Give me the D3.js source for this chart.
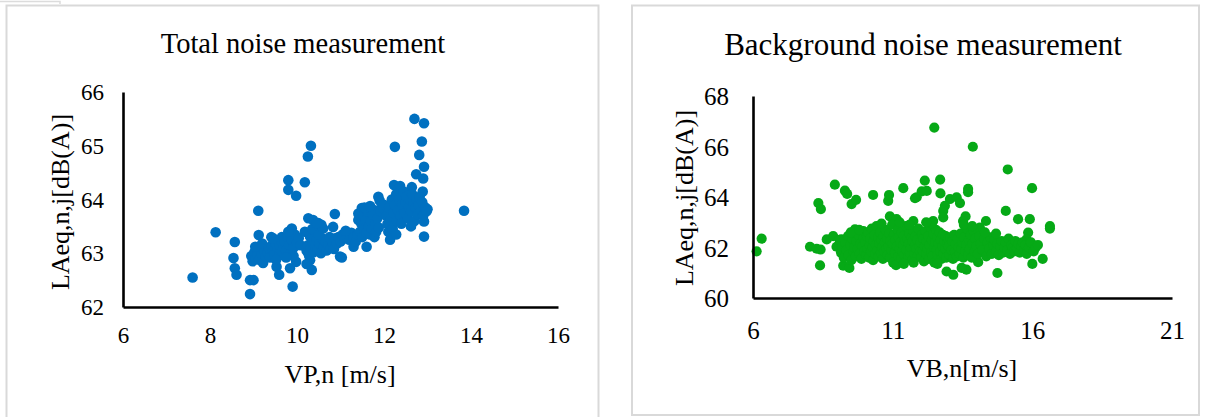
<!DOCTYPE html>
<html><head><meta charset="utf-8">
<script src="https://cdn.jsdelivr.net/npm/d3@7"></script>
<style>
html,body{margin:0;padding:0;background:#fff;}
svg{display:block;}
text{font-family:"Liberation Serif","Times New Roman",serif;fill:#000;}
</style></head>
<body>
<svg id="c" width="1206" height="417"></svg>
<script>
// ---------- DATA ----------
const totalTitle = "Total noise measurement";
const backgroundTitle = "Background noise measurement";
const totalXTicks = [6, 8, 10, 12, 14, 16];
const totalYTicks = [62, 63, 64, 65, 66];
const bgXTicks = [6, 11, 16, 21];
const bgYTicks = [60, 62, 64, 66, 68];

// Total noise: [VP,n (m/s), LAeq,n,j dB(A)]
const totalPoints = [
[7.60,62.55],[8.13,63.39],[8.57,63.21],[8.54,62.91],[8.57,62.72],[8.61,62.60],[8.92,62.50],[9.00,62.50],[8.92,62.24],[9.11,63.79],[9.12,63.34],
[9.80,64.36],[9.80,64.18],[9.98,64.07],[10.18,64.32],[10.25,64.80],[10.32,65.00],
[9.41,63.30],[9.65,63.30],[9.88,63.46],[9.53,62.75],[9.59,62.60],[9.90,62.38],[9.84,62.72],[9.98,62.84],
[10.26,63.65],[10.37,63.62],[10.49,63.56],[10.18,63.40],[10.30,63.31],[10.26,63.00],[10.30,62.87],[10.34,62.69],
[12.70,65.50],[12.92,65.42],[12.25,64.98],[12.87,65.08],[12.81,64.83],[12.92,64.61],[12.74,64.47],[12.90,64.39],
[12.23,64.27],[12.37,64.25],[12.64,64.23],[12.89,64.15],[11.87,64.05],[11.90,63.98],[13.84,63.79],[13.00,63.82],[12.92,63.59],[12.92,63.31],[12.14,63.25],
[11.49,63.84],[11.45,63.65],[11.79,63.80],[10.87,63.73],[10.83,63.49],[10.56,63.53],[11.30,63.12],[11.60,63.12],[11.03,62.92],
[8.95,62.95],[8.98,62.85],[9.02,63.02],[9.05,62.90],[9.08,63.08],[9.10,62.97],[9.13,62.88],[9.15,63.12],[9.18,63.00],[9.22,62.82],[9.25,63.05],[9.28,62.95],[9.04,63.12],[9.20,63.18],
[9.32,63.02],[9.35,63.10],[9.38,62.92],[9.42,63.15],[9.45,63.05],[9.48,62.98],[9.50,63.20],[9.55,63.08],[9.58,62.96],[9.60,63.15],[9.63,63.25],[9.66,63.02],[9.70,63.12],[9.45,63.28],[9.52,62.88],
[9.72,63.22],[9.75,63.05],[9.78,63.30],[9.82,63.15],[9.85,63.00],[9.88,63.25],[9.92,63.10],[9.95,63.35],[10.00,63.20],[10.04,63.28],[10.08,63.15],[9.80,63.40],[9.92,62.95],[9.75,62.92],
[10.22,63.05],[10.25,63.15],[10.28,62.95],[10.32,63.10],[10.35,63.22],[10.38,63.02],[10.42,63.12],[10.45,63.25],[10.48,63.08],[10.52,63.18],[10.55,63.00],[10.58,63.28],[10.62,63.12],[10.65,63.22],[10.68,63.05],[10.72,63.15],[10.75,63.30],[10.78,63.10],[10.82,63.20],[10.85,63.08],[10.88,63.28],[10.92,63.18],[10.40,63.40],[10.35,63.45],[10.22,62.80],[10.50,63.35],[10.60,63.46],[10.45,63.56],[10.99,62.94],
[10.95,63.30],[11.00,63.22],[11.05,63.35],[11.10,63.28],[11.15,63.32],[11.20,63.25],[11.25,63.38],[11.30,63.30],[11.35,63.22],[11.40,63.35],[11.12,63.42],[11.41,63.74],[11.41,63.62],
[11.45,63.40],[11.48,63.55],[11.50,63.30],[11.52,63.70],[11.55,63.45],[11.58,63.62],[11.60,63.38],[11.62,63.78],[11.65,63.50],[11.68,63.35],[11.70,63.60],[11.72,63.45],[11.75,63.72],[11.78,63.30],[11.80,63.55],[11.82,63.40],[11.85,63.65],[11.88,63.48],[11.92,63.78],[11.95,63.85],[11.55,63.85],[11.68,63.88],
[12.00,63.90],[12.05,63.70],[12.08,63.55],[12.10,63.40],[12.12,63.85],[12.15,63.62],[12.18,64.00],[12.20,63.45],[12.22,63.75],[12.25,63.90],[12.28,64.10],[12.30,63.60],[12.32,63.80],[12.35,64.00],[12.38,63.70],[12.40,63.55],[12.42,63.90],[12.45,64.15],[12.48,63.75],[12.50,63.95],
[12.52,64.05],[12.55,63.65],[12.58,63.85],[12.60,64.00],[12.62,63.78],[12.65,64.10],[12.68,63.92],[12.70,63.60],[12.72,63.85],[12.75,64.02],[12.78,63.72],[12.80,63.90],[12.82,64.05],[12.85,63.80],[12.88,63.95],[12.90,63.70],[12.95,63.85],[12.98,63.78],[12.28,63.35],[12.62,63.50]
];

// Background noise: [VB,n (m/s), LAeq,n,j dB(A)]
const backgroundPoints = [
[6.13,61.85],[6.31,62.35],[8.93,64.49],[9.29,64.25],[9.37,64.12],[8.34,63.76],[8.43,63.52],[9.53,63.72],[9.69,63.89],[10.30,64.08],[10.87,64.08],[10.84,63.85],[11.38,64.35],
[8.04,62.03],[8.28,61.95],[8.42,61.92],[8.40,61.29],[8.64,62.32],[8.87,62.45],[8.99,62.03],[9.23,61.28],[9.45,61.19],[9.65,62.72],[9.95,62.65],[10.90,63.23],[11.14,63.12],
[12.49,66.75],[13.87,65.99],[15.12,65.09],[15.99,64.35],[12.15,64.65],[12.70,64.69],[12.71,64.14],[12.04,64.22],[11.86,63.99],[13.70,64.32],[13.70,64.19],[13.05,63.92],[13.29,63.99],[13.41,63.76],
[12.87,63.65],[12.81,63.45],[12.81,63.19],[13.61,63.23],[13.52,63.05],[15.05,63.45],[15.49,63.12],[15.91,63.12],[14.34,63.05],[16.63,62.85],[16.63,62.75],[11.74,63.05],[12.45,63.05],[14.12,62.79],
[15.85,62.59],[15.79,62.32],[16.03,62.08],[16.37,61.55],[16.00,61.35],[14.75,60.99],[12.93,61.05],[13.17,60.92],[13.64,61.12],[13.47,61.19],[14.06,61.42],[11.80,63.95],[12.22,64.24],
[9.17,62.32],[9.10,62.30],[9.15,61.80],[9.20,62.05],[9.25,61.60],[9.30,62.20],[9.35,61.90],[9.40,62.45],[9.42,61.70],[9.48,62.10],[9.52,61.50],[9.55,62.35],[9.60,61.85],[9.62,62.00],[9.68,61.65],[9.70,62.25],[9.75,61.95],[9.78,62.50],[9.82,61.75],[9.85,62.15],[9.88,61.55],[9.92,62.05],[9.96,62.40],[9.98,61.85],[9.50,62.60],[9.80,62.70],
[10.02,62.20],[10.05,61.70],[10.08,62.45],[10.10,61.95],[10.12,62.60],[10.15,61.60],[10.18,62.10],[10.20,62.35],[10.22,61.85],[10.25,62.75],[10.28,62.00],[10.30,61.50],[10.32,62.25],[10.35,62.50],[10.38,61.75],[10.40,62.10],[10.42,62.85],[10.45,61.90],[10.48,62.40],[10.50,61.65],
[10.52,62.15],[10.55,62.60],[10.58,61.80],[10.60,62.30],[10.62,62.00],[10.65,61.55],[10.68,62.45],[10.70,61.85],[10.72,62.20],[10.75,62.70],[10.78,61.95],[10.80,62.35],[10.82,61.70],[10.85,62.05],[10.88,62.55],[10.90,61.60],[10.92,62.25],[10.95,61.90],[10.98,62.90],[10.60,62.95],
[11.00,62.15],[11.02,61.40],[11.05,62.50],[11.08,61.80],[11.10,62.30],[11.12,61.30],[11.15,62.05],[11.18,62.70],[11.20,61.65],[11.22,62.40],[11.25,61.95],[11.28,62.20],[11.30,61.55],[11.32,62.60],[11.35,61.85],[11.38,62.10],[11.40,62.45],[11.42,61.70],[11.45,62.25],[11.48,62.85],
[11.50,61.90],[11.52,62.35],[11.55,61.60],[11.58,62.15],[11.60,62.55],[11.62,61.80],[11.65,62.00],[11.68,62.40],[11.70,61.50],[11.72,62.25],[11.75,62.65],[11.78,61.75],[11.80,62.10],[11.82,62.45],[11.85,61.95],[11.88,62.30],[11.90,61.65],[11.92,62.75],[11.95,62.05],[11.98,61.85],[11.25,63.00],[11.60,62.90],[11.40,61.35],[11.75,61.40],
[12.00,62.20],[12.02,61.60],[12.05,62.50],[12.08,61.85],[12.10,62.35],[12.12,61.45],[12.15,62.05],[12.18,62.65],[12.20,61.75],[12.22,62.25],[12.25,61.95],[12.28,62.45],[12.30,61.55],[12.32,62.10],[12.35,62.80],[12.38,61.80],[12.40,62.30],[12.42,61.65],[12.45,62.55],[12.48,62.00],
[12.50,61.40],[12.52,62.20],[12.55,62.70],[12.58,61.90],[12.60,62.40],[12.62,61.70],[12.65,62.15],[12.68,62.60],[12.70,61.85],[12.72,62.30],[12.75,61.55],[12.78,62.05],[12.80,62.50],[12.82,61.75],[12.85,62.25],[12.88,61.95],[12.90,62.45],[12.92,61.60],[12.95,62.15],[12.98,62.35],[12.40,62.95],[12.20,63.00],[12.60,61.35],
[13.00,62.05],[13.03,61.70],[13.06,62.40],[13.10,61.90],[13.13,62.25],[13.16,61.55],[13.20,62.50],[13.23,61.85],[13.26,62.15],[13.30,61.65],[13.33,62.35],[13.36,62.00],[13.40,61.75],[13.43,62.55],[13.46,61.95],[13.50,62.20],[13.53,61.60],[13.56,62.40],
[13.60,61.85],[13.63,62.10],[13.66,62.75],[13.70,61.70],[13.73,62.30],[13.76,61.95],[13.80,62.50],[13.83,61.60],[13.86,62.15],[13.90,62.65],[13.93,61.85],[13.96,62.35],[14.00,62.05],[14.05,61.75],[14.10,62.45],[14.15,62.15],[13.55,62.90],[13.85,62.85],
[14.22,61.90],[14.28,62.35],[14.35,61.65],[14.40,62.20],[14.45,61.95],[14.50,62.40],[14.55,61.75],[14.60,62.10],[14.65,62.30],[14.70,61.85],[14.75,62.15],[14.80,61.70],[14.85,62.05],[14.90,62.25],[14.95,61.80],[15.00,62.00],[15.05,62.20],[15.10,61.90],[15.15,62.35],
[15.20,61.75],[15.25,62.10],[15.30,62.00],[15.35,61.85],[15.40,62.25],[15.45,61.95],[15.50,62.15],[15.55,61.80],[15.60,62.05],[15.65,62.20],[15.70,61.90],[15.75,62.10],[15.80,61.75],[15.88,62.00],[15.95,62.20],[16.05,61.85],[16.12,62.00],[16.20,62.10],[14.30,62.60],[14.70,62.55]
];

// ---------- DRAW ----------
const SERIF = '"Liberation Serif","Times New Roman",serif';
const svg = d3.select("#c");

// panel frames
svg.append("path").attr("d","M0,1.5H60V4").attr("fill","none").attr("stroke","#dcdcdc").attr("stroke-width",1.5);
svg.append("rect").attr("x",6.5).attr("y",5.5).attr("width",592).attr("height",420)
  .attr("fill","none").attr("stroke","#d9d9d9").attr("stroke-width",2);
svg.append("rect").attr("x",632).attr("y",5.5).attr("width",567).attr("height",409.5)
  .attr("fill","none").attr("stroke","#d9d9d9").attr("stroke-width",2);

function chart(cfg) {
  const g = svg.append("g");
  const x = d3.scaleLinear().domain(cfg.xDomain).range(cfg.xRange);
  const y = d3.scaleLinear().domain(cfg.yDomain).range(cfg.yRange);

  // title
  g.append("text").attr("x", cfg.titleX).attr("y", cfg.titleY)
    .attr("text-anchor","middle").attr("font-family", SERIF)
    .style("font-size", cfg.titleSize + "px").text(cfg.title);

  // points
  g.append("g").selectAll("circle").data(cfg.points).join("circle")
    .attr("cx", d => x(d[0])).attr("cy", d => y(d[1])).attr("r", cfg.r)
    .attr("fill", cfg.color);

  // axes
  const xa = g.append("g").attr("transform", `translate(0,${cfg.yRange[0]})`)
    .call(d3.axisBottom(x).tickValues(cfg.xTicks).tickSize(0).tickFormat(d3.format("d")))
    .attr("font-family", SERIF).attr("font-size", cfg.tickSize);
  xa.select(".domain").attr("stroke","#000").attr("stroke-width",2.6);
  xa.selectAll("text").attr("dy", null).attr("y", cfg.xTickY).attr("dominant-baseline","central")
    .attr("font-family", SERIF).attr("font-size", cfg.tickSize).attr("fill","#000");

  const ya = g.append("g").attr("transform", `translate(${cfg.xRange[0]},0)`)
    .call(d3.axisLeft(y).tickValues(cfg.yTicks).tickSize(0).tickFormat(d3.format("d")))
    .attr("font-family", SERIF).attr("font-size", cfg.tickSize);
  ya.select(".domain").attr("stroke","#000").attr("stroke-width",2.6);
  ya.selectAll("text").attr("dy", null).attr("x", -cfg.yTickPad).attr("dominant-baseline","central")
    .attr("font-family", SERIF).attr("font-size", cfg.tickSize).attr("fill","#000");

  // axis titles
  g.append("text").attr("x", cfg.xLabelX).attr("y", cfg.xLabelY).attr("text-anchor","middle")
    .attr("font-family", SERIF).style("font-size", cfg.labelSize + "px").text(cfg.xLabel);
  g.append("text").attr("transform", `translate(${cfg.yLabelX},${cfg.yLabelY}) rotate(-90)`)
    .attr("text-anchor","middle").attr("dominant-baseline","central").attr("font-family", SERIF)
    .style("font-size", cfg.labelSize + "px").text(cfg.yLabel);
}

chart({
  title: totalTitle, titleX: 303, titleY: 53, titleSize: 28.5,
  points: totalPoints, color: "#0070C0", r: 5.3,
  xDomain: [6, 16], xRange: [123, 558], yDomain: [62, 66], yRange: [307, 92],
  xTicks: totalXTicks, yTicks: totalYTicks, tickSize: 23, xTickY: 28, yTickPad: 19,
  xLabel: "VP,n [m/s]", xLabelX: 340, xLabelY: 383,
  yLabel: "LAeq,n,j[dB(A)]", yLabelX: 60, yLabelY: 202, labelSize: 26
});

chart({
  title: backgroundTitle, titleX: 923, titleY: 55, titleSize: 31,
  points: backgroundPoints, color: "#06A916", r: 5.1,
  xDomain: [6, 21], xRange: [753, 1172], yDomain: [60, 68], yRange: [298, 96],
  xTicks: bgXTicks, yTicks: bgYTicks, tickSize: 25, xTickY: 32, yTickPad: 24,
  xLabel: "VB,n[m/s]", xLabelX: 962, xLabelY: 377,
  yLabel: "LAeq,n,j[dB(A)]", yLabelX: 684, yLabelY: 198, labelSize: 26
});
</script>
</body></html>
